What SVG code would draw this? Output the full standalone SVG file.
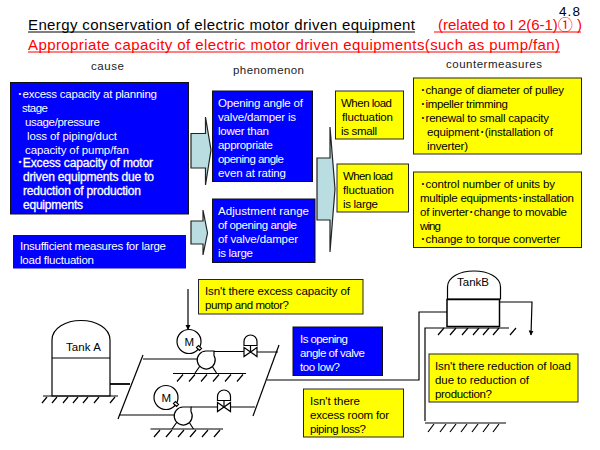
<svg xmlns="http://www.w3.org/2000/svg" width="600" height="450" viewBox="0 0 600 450">
<style>
text{font-family:"Liberation Sans","Noto Sans CJK JP",sans-serif;font-size:11.5px;fill:#000}
.w{fill:#fff}
.wb{fill:#fff;stroke:#fff;stroke-width:.3px;font-size:12px}
.t{font-size:15px}
.r{fill:#f00;font-size:15px}
.n{font-size:13.500px}
.h{font-size:11.5px;fill:#222}
.blue{fill:#00f;stroke:#111;stroke-width:1}
.yel{fill:#ff0;stroke:#223;stroke-width:1}
.arr{fill:#b9dde0;stroke:#222;stroke-width:1.2}
.ln{fill:none;stroke:#000;stroke-width:1.2}
.th{fill:none;stroke:#000;stroke-width:1.8}
.sh{fill:#fff;stroke:#000;stroke-width:1.2}
</style>
<defs>
<marker id="ah" markerUnits="userSpaceOnUse" markerWidth="6" markerHeight="6" refX="4.500" refY="2.500" orient="auto"><path d="M0 0L5 2.500L0 5z" fill="#000"/></marker>
<g id="hatch"><path class="ln" d="M0 7L6 0M12 7L18 0M24 7L30 0M36 7L42 0M48 7L54 0M60 7L66 0"/></g>
<g id="pump">
<path class="ln" d="M-11 13L-6 6M10.500 13L6 6"/>
<circle class="sh" cx="-17" cy="-18.500" r="12"/>
<path class="sh" d="M-9.500 -12.500L-6.500 -9.500L-4.500 -11.500L-7.500 -14.500z"/>
<path class="sh" d="M0 -9H8V-4.500A9 9 0 1 1 0 -9z"/>
</g>
<g id="valve">
<path class="sh" d="M-6.500 0V-4A6.500 6.500 0 0 1 6.500 -4V0z"/>
<path class="ln" d="M0 0V6"/>
<path class="sh" d="M-6.500 2L6.500 11V2L-6.500 11z"/>
</g>
</defs>
<rect width="600" height="450" fill="#fff"/>

<g id="titles">
<text class="t" x="28" y="30" textLength="387">Energy conservation of electric motor driven equipment</text>
<line x1="28" y1="32" x2="415" y2="32" stroke="#000" stroke-width="1"/>
<text class="r" x="438" y="30" textLength="144">(related to I 2(6-1)① )</text>
<line x1="434" y1="32" x2="581" y2="32" stroke="#f00" stroke-width="1"/>
<text class="n" x="559" y="16" textLength="21">4.8</text>
<text class="r" x="28" y="50" textLength="532">Appropriate capacity of electric motor driven equipments(such as pump/fan)</text>
<line x1="28" y1="52" x2="560" y2="52" stroke="#f00" stroke-width="1"/>
<text class="h" x="91" y="70" textLength="33">cause</text>
<text class="h" x="233" y="74" textLength="71">phenomenon</text>
<text class="h" x="446" y="68" textLength="96">countermeasures</text>
</g>

<g id="connectors">
<path class="arr" d="M191 133.500H205.500V117L211 150L205.500 185V168H191z"/>
<path class="arr" d="M191 221H203V210L207.500 233L203 255V244H191z"/>
<path class="arr" d="M317 158H330V127L335 189L330 252V220H317z"/>
<line class="ln" x1="188" y1="289" x2="188" y2="329.500" marker-end="url(#ah)"/>
<path class="th" d="M110 384H130"/>
<path class="ln" d="M143 355L118 419"/>
<path class="ln" d="M279 345L253 416"/>
<path class="ln" d="M143 359H198"/>
<path class="ln" d="M119 415H175"/>
<path class="ln" d="M214 351.500H245M256 352H278"/>
<path class="ln" d="M191 407H218M230 407H255"/>
<path class="ln" d="M267 380H419V312H447"/>
<path class="ln" d="M500 302H532L531 335" marker-end="url(#ah)"/>
<path class="ln" d="M425 421V328H509"/>
<path class="ln" d="M425 423H506"/>
</g>

<g id="cause1">
<rect class="blue" x="10.500" y="82.500" width="178" height="131.500"/>
<text class="w" x="17" y="98" textLength="140">･excess capacity at planning</text>
<text class="w" x="22" y="112" textLength="26">stage</text>
<text class="w" x="25" y="126" textLength="75">usage/pressure</text>
<text class="w" x="27" y="140" textLength="90">loss of piping/duct</text>
<text class="w" x="25" y="154" textLength="104">capacity of pump/fan</text>
<text class="wb" x="17" y="167" textLength="136">･Excess capacity of motor</text>
<text class="wb" x="23" y="181" textLength="131">driven equipments due to</text>
<text class="wb" x="23" y="195" textLength="118">reduction of production</text>
<text class="wb" x="23" y="209" textLength="60">equipments</text>
</g>
<g id="cause2">
<rect x="13" y="235" width="173" height="33.500" fill="#00f"/>
<text class="w" x="20" y="250" textLength="146">Insufficient measures for large</text>
<text class="w" x="20" y="264" textLength="74">load fluctuation</text>
</g>
<g id="phenomenon1">
<rect class="blue" x="212.500" y="91" width="100" height="90.500"/>
<text class="w" x="218" y="107" textLength="85">Opening angle of</text>
<text class="w" x="218" y="121" textLength="78">valve/damper is</text>
<text class="w" x="218" y="135" textLength="51">lower than</text>
<text class="w" x="218" y="149" textLength="55">appropriate</text>
<text class="w" x="218" y="163" textLength="66">opening angle</text>
<text class="w" x="218" y="177" textLength="68">even at rating</text>
</g>
<g id="phenomenon2">
<rect class="blue" x="212.500" y="199" width="102.500" height="63.500"/>
<text class="w" x="218" y="215" textLength="91">Adjustment range</text>
<text class="w" x="218" y="229" textLength="79">of opening angle</text>
<text class="w" x="218" y="243" textLength="80">of valve/damper</text>
<text class="w" x="218" y="257" textLength="35">is large</text>
</g>
<g id="load-small">
<rect class="yel" x="335.500" y="91" width="68" height="48"/>
<text x="341" y="107" textLength="51">When load</text>
<text x="342" y="121" textLength="51">fluctuation</text>
<text x="341" y="135" textLength="36">is small</text>
</g>
<g id="load-large">
<rect class="yel" x="337" y="164" width="71.500" height="48"/>
<text x="343" y="180" textLength="50">When load</text>
<text x="343" y="194" textLength="51">fluctuation</text>
<text x="343" y="208" textLength="35">is large</text>
</g>
<g id="countermeasure1">
<rect class="yel" x="413.500" y="78" width="168" height="76"/>
<text x="420" y="94" textLength="144">･change of diameter of pulley</text>
<text x="420" y="108" textLength="88">･impeller trimming</text>
<text x="420" y="122" textLength="129">･renewal to small capacity</text>
<text x="427" y="136" textLength="126">equipment･(installation of</text>
<text x="427" y="150" textLength="41">inverter)</text>
</g>
<g id="countermeasure2">
<rect class="yel" x="413.500" y="172" width="168" height="75.500"/>
<text x="420" y="188" textLength="135">･control number of units by</text>
<text x="420" y="202" textLength="154">multiple equipments･installation</text>
<text x="420" y="216" textLength="147">of inverter･change to movable</text>
<text x="420" y="230" textLength="21">wing</text>
<text x="420" y="243" textLength="140">･change to torque converter</text>
</g>
<g id="q-capacity">
<rect class="yel" x="198.500" y="279.500" width="164.500" height="34.500"/>
<text x="205" y="295" textLength="145">Isn't there excess capacity of</text>
<text x="205" y="309" textLength="84">pump and motor?</text>
</g>
<g id="q-valve">
<rect class="blue" x="293" y="327" width="89.500" height="48.500"/>
<text class="w" x="300" y="343" textLength="48">Is opening</text>
<text class="w" x="300" y="357" textLength="65">angle of valve</text>
<text class="w" x="300" y="371" textLength="40">too low?</text>
</g>
<g id="q-piping">
<rect class="yel" x="303.500" y="389" width="100" height="48"/>
<text x="310" y="405" textLength="50">Isn't there</text>
<text x="310" y="419" textLength="79">excess room for</text>
<text x="310" y="433" textLength="56">piping loss?</text>
</g>
<g id="q-load">
<rect class="yel" x="429" y="354" width="149" height="48"/>
<text x="435" y="370" textLength="136">Isn't there reduction of load</text>
<text x="435" y="384" textLength="94">due to reduction of</text>
<text x="435" y="398" textLength="57">production?</text>
</g>

<g id="tank-a">
<path class="sh" d="M52 396V340C52 328 66 320.500 81 320.500S110 328 110 340V396z"/>
<line class="ln" x1="52" y1="358" x2="110" y2="358"/>
<line class="ln" x1="43" y1="396" x2="118" y2="396"/>
<path class="ln" d="M42 403L47 397M52 403L57 397M63 403L68 397M73 403L78 397M83 403L88 397M94 403L99 397M110 403L115 397"/>
<text x="66" y="351" textLength="35">Tank A</text>
</g>
<g id="tank-b">
<path class="sh" d="M447.500 299V287C447.500 277 460 271 474 271S500.500 277 500.500 287V299z"/>
<rect x="447" y="299.500" width="52.500" height="27" fill="#fff" stroke="#000" stroke-width="1.500"/>
<path class="ln" d="M438 335L444 328M450 335L456 328M462 335L468 328M473 335L479 328M483 335L489 328M493 335L499 328M510 335L516 328"/>
<text x="457" y="286" textLength="32">TankB</text>
</g>
<g id="ground-lower">
<path class="ln" d="M428 432L434 424M440 432L446 424M450 432L456 424M461 432L467 424M472 432L478 424M483 432L489 424M493 432L499 424"/>
</g>
<g id="pump-upper">
<use href="#pump" x="206" y="360"/>
<text x="184.500" y="346" textLength="9">M</text>
<line class="ln" x1="173" y1="373.500" x2="246" y2="373.500"/>
<use href="#hatch" x="177" y="374.500"/>
</g>
<g id="valve-upper"><use href="#valve" x="250.500" y="345.500"/></g>
<g id="pump-lower">
<use href="#pump" x="183" y="416"/>
<text x="161.500" y="402" textLength="9">M</text>
<line class="ln" x1="150.500" y1="429" x2="223" y2="429"/>
<use href="#hatch" x="154" y="430"/>
</g>
<g id="valve-lower"><use href="#valve" x="224" y="400.500"/></g>
</svg>
